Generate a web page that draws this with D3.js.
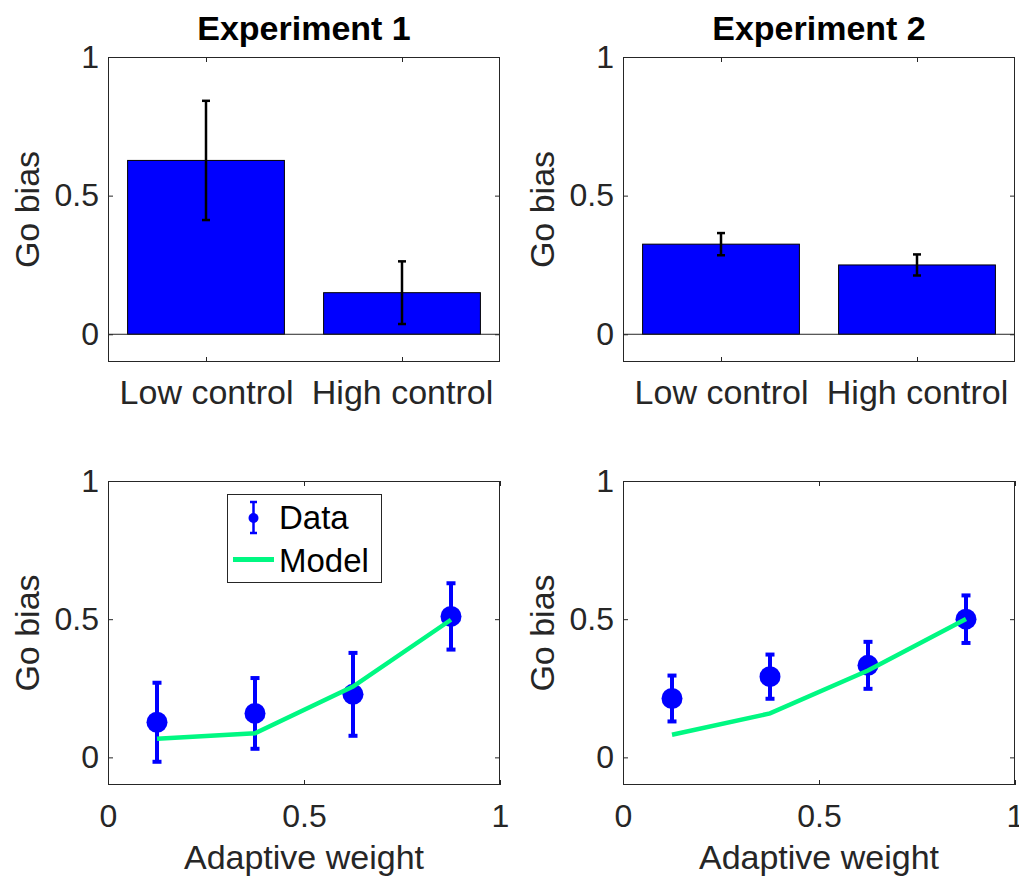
<!DOCTYPE html>
<html lang="en">
<head>
<meta charset="UTF-8">
<title>Go bias</title>
<style>
    body {
        margin: 0;
        background: #ffffff;
        font-family: "Liberation Sans", Arial, sans-serif;
    }
    svg text { fill: #262626; }
    .title { fill: #000000; font-weight: bold; }
</style>
</head>
<body>
<svg id="chart" width="1019" height="877"></svg>
<script src="https://d3js.org/d3.v7.min.js"></script>
<script>
// values
const conditions = ["Low control", "High control"];
const exp1Bias = [0.627, 0.150];
const exp1BiasErr = [0.215, 0.113];
const exp2Bias = [0.325, 0.250];
const exp2BiasErr = [0.040, 0.038];

const adaptiveWeight = [0.125, 0.375, 0.625, 0.875];
const exp1Data = [0.127, 0.159, 0.228, 0.510];
const exp1DataErr = [0.143, 0.128, 0.150, 0.120];
const exp1Model = [0.067, 0.087, 0.256, 0.498];
const exp2Data = [0.213, 0.292, 0.333, 0.500];
const exp2DataErr = [0.083, 0.080, 0.085, 0.086];
const exp2Model = [0.082, 0.159, 0.314, 0.501];

const yTicks = [0, 0.5, 1];
const xTicks = [0, 0.5, 1];
const titles = ["Experiment 1", "Experiment 2"];

const svg = d3.select("#chart");
const blue = "#0000ff";
const green = "#00f882";
const axisColor = "#262626";

const cols = [{ left: 108, right: 500 }, { left: 623, right: 1015 }];
const rows = [{ top: 57, bottom: 362 }, { top: 481, bottom: 785 }];

function frame(col, row, x, y, xTickVals, xFormat, xFont) {
    const g = svg.append("g");
    const yAxis = g.append("g")
        .attr("transform", `translate(${col.left},0)`)
        .call(d3.axisLeft(y).tickValues(yTicks).tickSize(-5).tickPadding(9).tickFormat(d3.format("")));
    yAxis.select(".domain").remove();
    yAxis.selectAll("line").attr("stroke", axisColor);
    yAxis.selectAll("text").attr("font-size", 32).attr("font-family", "Liberation Sans").attr("fill", axisColor);

    const yRight = g.append("g")
        .attr("transform", `translate(${col.right},0)`)
        .call(d3.axisRight(y).tickValues(yTicks).tickSize(-5).tickFormat(""));
    yRight.select(".domain").remove();
    yRight.selectAll("line").attr("stroke", axisColor);

    const xAxis = g.append("g")
        .attr("transform", `translate(0,${row.bottom})`)
        .call(d3.axisBottom(x).tickValues(xTickVals).tickSize(-5).tickFormat(xFormat));
    xAxis.select(".domain").remove();
    xAxis.selectAll("line").attr("stroke", axisColor);
    xAxis.selectAll("text")
        .attr("font-size", xFont).attr("font-family", "Liberation Sans").attr("fill", axisColor)
        .attr("dy", null).attr("y", 42);

    const xTop = g.append("g")
        .attr("transform", `translate(0,${row.top})`)
        .call(d3.axisTop(x).tickValues(xTickVals).tickSize(-5).tickFormat(""));
    xTop.select(".domain").remove();
    xTop.selectAll("line").attr("stroke", axisColor);

    g.append("text")
        .attr("transform", `translate(${col.left - 69},${(row.top + row.bottom) / 2}) rotate(-90)`)
        .attr("text-anchor", "middle")
        .attr("font-size", 34)
        .text("Go bias");
    return g;
}

function box(col, row) {
    svg.append("rect")
        .attr("x", col.left + 0.5).attr("y", row.top + 0.5)
        .attr("width", col.right - col.left - 1).attr("height", row.bottom - row.top - 1)
        .attr("fill", "none").attr("stroke", axisColor).attr("stroke-width", 1);
}

// --- top row: bar charts ---
[[exp1Bias, exp1BiasErr], [exp2Bias, exp2BiasErr]].forEach(([vals, errs], i) => {
    const col = cols[i], row = rows[0];
    const x = d3.scaleLinear().domain([0.5, 2.5]).range([col.left, col.right]);
    const y = d3.scaleLinear().domain([-0.1, 1]).range([row.bottom, row.top]);
    const catIndex = conditions.map((c, k) => k + 1);
    frame(col, row, x, y, catIndex, k => conditions[k - 1], 34);

    const g = svg.append("g");
    g.selectAll("rect.bar").data(vals).join("rect")
        .attr("class", "bar")
        .attr("x", (d, k) => x(k + 1 - 0.4))
        .attr("width", x(1.4) - x(0.6))
        .attr("y", d => y(d))
        .attr("height", d => y(0) - y(d))
        .attr("fill", blue)
        .attr("stroke", "#000000").attr("stroke-width", 1);

    g.append("line")
        .attr("x1", col.left).attr("x2", col.right)
        .attr("y1", y(0)).attr("y2", y(0))
        .attr("stroke", axisColor).attr("stroke-width", 1);

    const eb = g.selectAll("g.err").data(vals).join("g").attr("class", "err");
    eb.append("line")
        .attr("x1", (d, k) => x(k + 1)).attr("x2", (d, k) => x(k + 1))
        .attr("y1", (d, k) => y(d - errs[k])).attr("y2", (d, k) => y(d + errs[k]))
        .attr("stroke", "#000").attr("stroke-width", 2.5);
    [-1, 1].forEach(s => {
        eb.append("line")
            .attr("x1", (d, k) => x(k + 1) - 4).attr("x2", (d, k) => x(k + 1) + 4)
            .attr("y1", (d, k) => y(d + s * errs[k])).attr("y2", (d, k) => y(d + s * errs[k]))
            .attr("stroke", "#000").attr("stroke-width", 2.5);
    });

    box(col, row);

    svg.append("text")
        .attr("class", "title")
        .attr("x", (col.left + col.right) / 2)
        .attr("y", row.top - 17)
        .attr("text-anchor", "middle")
        .attr("font-size", 34)
        .text(titles[i]);
});

// --- bottom row: data vs model ---
[[exp1Data, exp1DataErr, exp1Model], [exp2Data, exp2DataErr, exp2Model]].forEach(([vals, errs, model], i) => {
    const col = cols[i], row = rows[1];
    const x = d3.scaleLinear().domain([0, 1]).range([col.left, col.right]);
    const y = d3.scaleLinear().domain([-0.1, 1]).range([row.bottom, row.top]);
    frame(col, row, x, y, xTicks, d3.format(""), 32);

    const g = svg.append("g");
    const pts = g.selectAll("g.pt").data(vals).join("g").attr("class", "pt");
    pts.append("line")
        .attr("x1", (d, k) => x(adaptiveWeight[k])).attr("x2", (d, k) => x(adaptiveWeight[k]))
        .attr("y1", (d, k) => y(d - errs[k])).attr("y2", (d, k) => y(d + errs[k]))
        .attr("stroke", blue).attr("stroke-width", 4);
    [-1, 1].forEach(s => {
        pts.append("line")
            .attr("x1", (d, k) => x(adaptiveWeight[k]) - 4.5).attr("x2", (d, k) => x(adaptiveWeight[k]) + 4.5)
            .attr("y1", (d, k) => y(d + s * errs[k])).attr("y2", (d, k) => y(d + s * errs[k]))
            .attr("stroke", blue).attr("stroke-width", 4);
    });
    pts.append("circle")
        .attr("cx", (d, k) => x(adaptiveWeight[k]))
        .attr("cy", d => y(d))
        .attr("r", 10.5)
        .attr("fill", blue);

    const line = d3.line().x((d, k) => x(adaptiveWeight[k])).y(d => y(d));
    g.append("path")
        .datum(model)
        .attr("d", line)
        .attr("fill", "none")
        .attr("stroke", green)
        .attr("stroke-width", 4.5);

    box(col, row);

    svg.append("text")
        .attr("x", (col.left + col.right) / 2)
        .attr("y", 869)
        .attr("text-anchor", "middle")
        .attr("font-size", 34)
        .text("Adaptive weight");
});

// legend in the lower-left panel
const leg = svg.append("g");
leg.append("rect")
    .attr("x", 227.5).attr("y", 494.5).attr("width", 154).attr("height", 88)
    .attr("fill", "#ffffff").attr("stroke", axisColor).attr("stroke-width", 1);
leg.append("line")
    .attr("x1", 253.5).attr("x2", 253.5).attr("y1", 502).attr("y2", 533)
    .attr("stroke", blue).attr("stroke-width", 2.5);
[502, 533].forEach(yy => {
    leg.append("line")
        .attr("x1", 250).attr("x2", 257).attr("y1", yy).attr("y2", yy)
        .attr("stroke", blue).attr("stroke-width", 2.5);
});
leg.append("circle").attr("cx", 253.5).attr("cy", 518).attr("r", 5).attr("fill", blue);
leg.append("line")
    .attr("x1", 233).attr("x2", 274).attr("y1", 559.5).attr("y2", 559.5)
    .attr("stroke", green).attr("stroke-width", 5);
leg.append("text").attr("x", 279).attr("y", 528.5).attr("font-size", 33).style("fill", "#000").text("Data");
leg.append("text").attr("x", 279).attr("y", 571.5).attr("font-size", 33).style("fill", "#000").text("Model");
</script>
</body>
</html>
